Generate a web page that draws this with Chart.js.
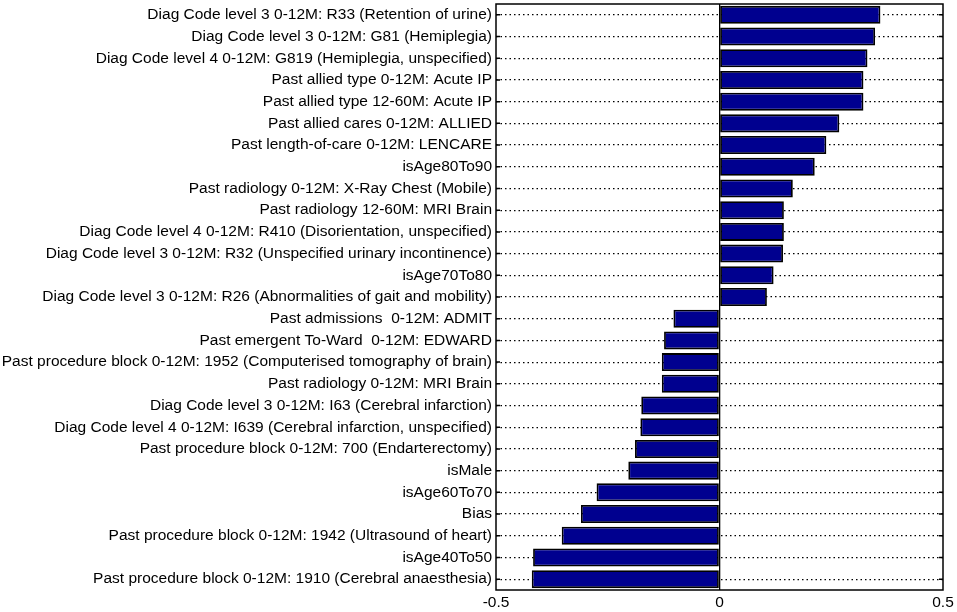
<!DOCTYPE html>
<html>
<head>
<meta charset="utf-8">
<script src="https://cdn.jsdelivr.net/npm/chart.js@4/dist/chart.umd.min.js"></script>
<style>
  html, body { margin: 0; padding: 0; background: #fff; }
  #wrap { width: 957px; height: 612px; position: relative; }
</style>
</head>
<body>
<div id="wrap"><canvas id="weightsChart"></canvas></div>
<script>
// Feature names, top to bottom
const features = [
    'Diag Code level 3 0-12M: R33 (Retention of urine)',
    'Diag Code level 3 0-12M: G81 (Hemiplegia)',
    'Diag Code level 4 0-12M: G819 (Hemiplegia, unspecified)',
    'Past allied type 0-12M: Acute IP',
    'Past allied type 12-60M: Acute IP',
    'Past allied cares 0-12M: ALLIED',
    'Past length-of-care 0-12M: LENCARE',
    'isAge80To90',
    'Past radiology 0-12M: X-Ray Chest (Mobile)',
    'Past radiology 12-60M: MRI Brain',
    'Diag Code level 4 0-12M: R410 (Disorientation, unspecified)',
    'Diag Code level 3 0-12M: R32 (Unspecified urinary incontinence)',
    'isAge70To80',
    'Diag Code level 3 0-12M: R26 (Abnormalities of gait and mobility)',
    'Past admissions  0-12M: ADMIT',
    'Past emergent To-Ward  0-12M: EDWARD',
    'Past procedure block 0-12M: 1952 (Computerised tomography of brain)',
    'Past radiology 0-12M: MRI Brain',
    'Diag Code level 3 0-12M: I63 (Cerebral infarction)',
    'Diag Code level 4 0-12M: I639 (Cerebral infarction, unspecified)',
    'Past procedure block 0-12M: 700 (Endarterectomy)',
    'isMale',
    'isAge60To70',
    'Bias',
    'Past procedure block 0-12M: 1942 (Ultrasound of heart)',
    'isAge40To50',
    'Past procedure block 0-12M: 1910 (Cerebral anaesthesia)'
];

// Weights
const weights = [
    0.360, 0.348, 0.331, 0.322, 0.322, 0.268, 0.239, 0.213, 0.164,
    0.144, 0.144, 0.142, 0.121, 0.106,
    -0.103, -0.124, -0.129, -0.129, -0.175, -0.177, -0.189, -0.204,
    -0.275, -0.310, -0.353, -0.417, -0.420
];

const xTicks = [-0.5, 0, 0.5];

const labelFont = { family: '"Liberation Sans", Arial, sans-serif', size: 15.5 };

// Box round the axes plus small inward ticks at each category
const boxPlugin = {
    id: 'box',
    afterDraw(chart) {
        const { ctx, chartArea: a, scales } = chart;
        ctx.save();
        ctx.strokeStyle = '#000';
        ctx.lineWidth = 1.5;
        ctx.strokeRect(a.left, a.top, a.right - a.left, a.bottom - a.top);
        ctx.lineWidth = 1.5;
        const y = scales.y;
        for (let i = 0; i < features.length; i++) {
            const py = y.getPixelForValue(i);
            ctx.beginPath();
            ctx.moveTo(a.left, py); ctx.lineTo(a.left + 4, py);
            ctx.moveTo(a.right, py); ctx.lineTo(a.right - 4, py);
            ctx.stroke();
        }
        ctx.restore();
    }
};

new Chart(document.getElementById('weightsChart').getContext('2d'), {
    type: 'bar',
    data: {
        labels: features,
        datasets: [{
            data: weights,
            backgroundColor: 'rgb(0, 0, 143)',
            borderColor: '#000',
            borderWidth: 1.8,
            borderSkipped: false,
            barPercentage: 0.83,
            categoryPercentage: 1.0
        }]
    },
    options: {
        indexAxis: 'y',
        responsive: true,
        maintainAspectRatio: false,
        animation: false,
        devicePixelRatio: 1,
        layout: { padding: { top: 4, right: 14, left: 0, bottom: 0 } },
        plugins: {
            legend: { display: false },
            tooltip: { enabled: false }
        },
        scales: {
            x: {
                min: -0.5,
                max: 0.5,
                afterBuildTicks(scale) {
                    scale.ticks = xTicks.map(v => ({ value: v }));
                },
                afterFit(scale) { scale.height = 22; },
                border: { display: false },
                grid: {
                    drawTicks: false,
                    lineWidth: 1.3,
                    color: ctx => (ctx.tick && ctx.tick.value === 0 ? '#000' : 'transparent')
                },
                ticks: {
                    color: '#000',
                    font: labelFont,
                    padding: 3,
                    maxRotation: 0,
                    callback: v => String(v)
                }
            },
            y: {
                afterFit(scale) {
                    scale.width = 496;
                    scale.paddingTop = 0;
                    scale.paddingBottom = 0;
                },
                border: { display: false, dash: [1.5, 3] },
                grid: {
                    offset: false,
                    drawTicks: false,
                    color: '#000',
                    lineWidth: 1.2
                },
                ticks: {
                    color: '#000',
                    font: labelFont,
                    padding: 4,
                    autoSkip: false
                }
            }
        }
    },
    plugins: [boxPlugin]
});
</script>
</body>
</html>
